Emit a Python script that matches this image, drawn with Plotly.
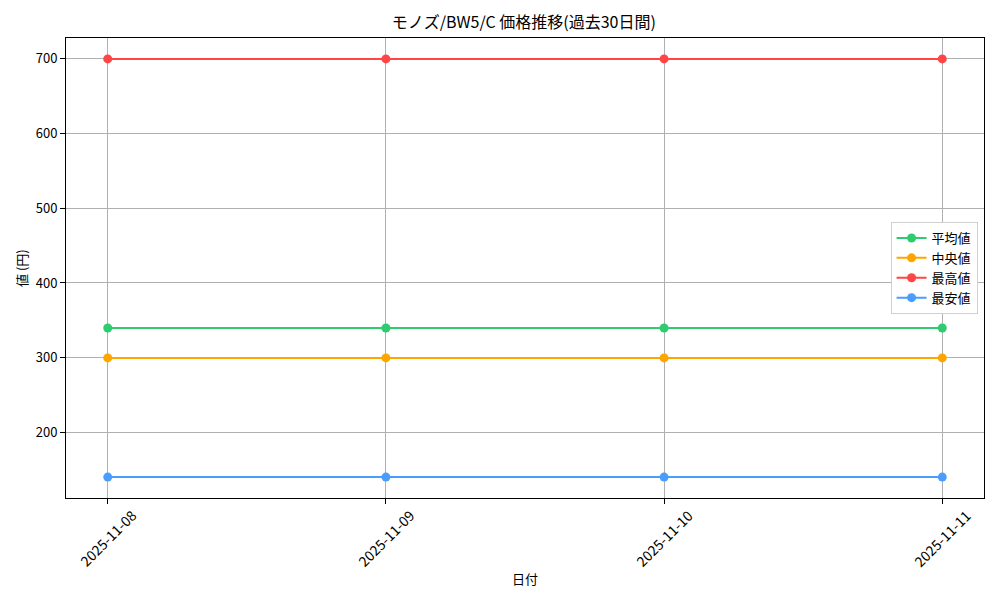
import plotly.graph_objs as go

# データ
dates = ['2025-11-08', '2025-11-09', '2025-11-10', '2025-11-11']
avg_price = [340, 340, 340, 340]
median_price = [300, 300, 300, 300]
max_price = [699, 699, 699, 699]
min_price = [141, 141, 141, 141]

series = [
    ('平均値', avg_price, '#2ecc71'),
    ('中央値', median_price, '#ffa500'),
    ('最高値', max_price, '#ff4545'),
    ('最安値', min_price, '#4a9cff'),
]

FONT = 'Noto Sans CJK JP'

fig = go.Figure()
for name, vals, color in series:
    fig.add_trace(go.Scatter(
        x=dates, y=vals, mode='lines+markers', name=name,
        line=dict(color=color, width=2),
        marker=dict(color=color, size=9),
    ))

# y範囲 (matplotlib風 5% マージン)
all_vals = avg_price + median_price + max_price + min_price
lo, hi = min(all_vals), max(all_vals)
pad = (hi - lo) * 0.05

# ページ本体の余白 (8px) を考慮したサイズ
fig.update_layout(
    width=992, height=592,
    margin=dict(l=58, r=16, t=30, b=102, autoexpand=False),
    paper_bgcolor='white', plot_bgcolor='white',
    font=dict(family=FONT, size=13, color='black'),
    title=dict(text='モノズ/BW5/C 価格推移(過去30日間)', x=0.52, xanchor='center',
               y=0.976, yanchor='middle', font=dict(size=16)),
    showlegend=True,
    legend=dict(x=0.993, xanchor='right', y=0.5, yanchor='middle',
                bgcolor='white', bordercolor='#d0d0d0', borderwidth=1,
                font=dict(size=13), tracegroupgap=0),
    xaxis=dict(
        type='date',
        range=['2025-11-07 20:24', '2025-11-11 03:36'],
        tickvals=dates, showticklabels=False,
        ticks='outside', ticklen=5, tickcolor='black',
        showgrid=True, gridcolor='#b0b0b0', gridwidth=1,
        showline=True, linecolor='black', linewidth=1, mirror=True,
        zeroline=False, automargin=False,
    ),
    yaxis=dict(
        range=[lo - pad, hi + pad],
        tickvals=[200, 300, 400, 500, 600, 700],
        ticks='outside', ticklen=5, tickcolor='black',
        tickfont=dict(size=13),
        showgrid=True, gridcolor='#b0b0b0', gridwidth=1,
        showline=True, linecolor='black', linewidth=1, mirror=True,
        zeroline=False, automargin=False,
    ),
)

# 回転した日付ラベル (中央揃え)
for d in dates:
    fig.add_annotation(x=d, xref='x', y=-0.087, yref='paper', text=d,
                       textangle=-45, showarrow=False, xanchor='center',
                       yanchor='middle', font=dict(size=14))

fig.add_annotation(x=0.5, xref='paper', y=-0.174, yref='paper', text='日付',
                   showarrow=False, xanchor='center', yanchor='middle',
                   font=dict(size=13))

# y軸タイトル
fig.add_annotation(x=-0.049, xref='paper', y=0.5, yref='paper', text='値 (円)',
                   textangle=-90, showarrow=False, xanchor='center',
                   yanchor='middle', font=dict(size=13))

fig.write_html('out.html')
